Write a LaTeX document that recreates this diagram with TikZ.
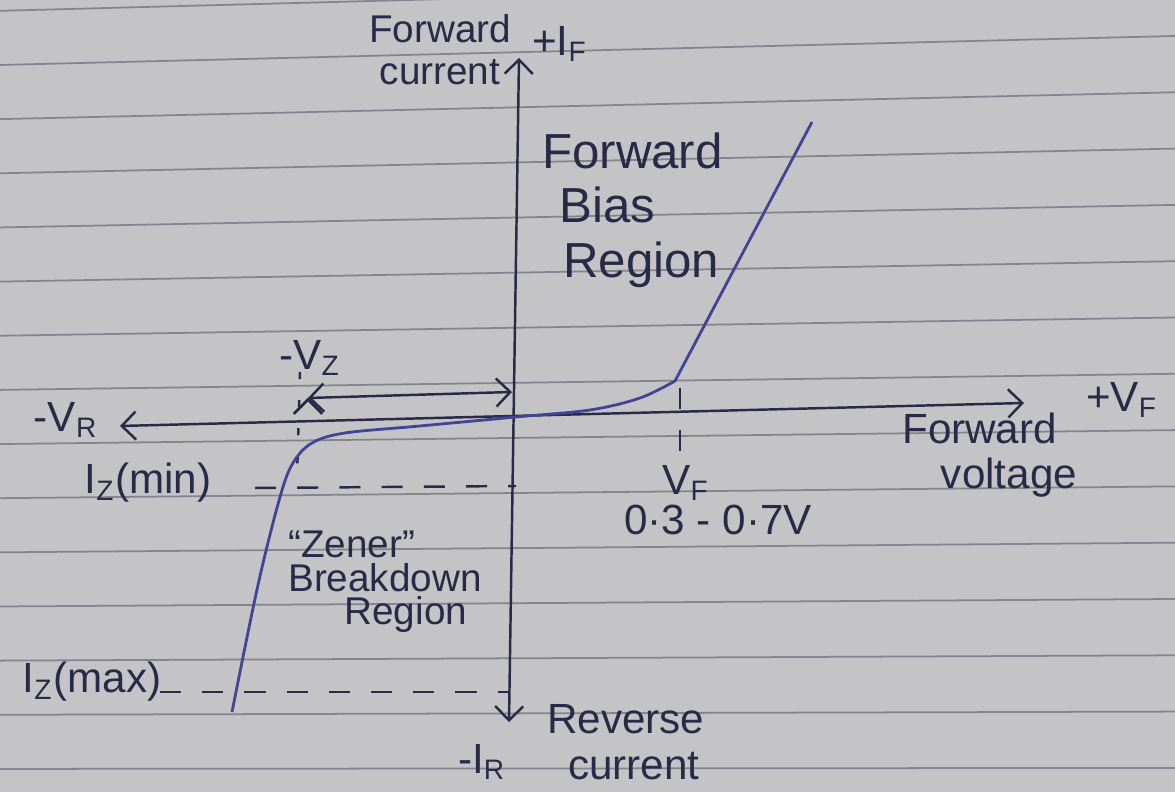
\documentclass[tikz,border=0pt]{standalone}
\usepackage{fontspec}
\setmainfont{Liberation Sans}
\usetikzlibrary{arrows.meta,positioning}
\definecolor{paper}{RGB}{196,196,198}
\definecolor{ruling}{RGB}{132,132,140}
\definecolor{ink}{RGB}{42,42,72}
\definecolor{pen}{RGB}{68,68,150}

\begin{document}
\begin{tikzpicture}[x=0.01cm, y=-0.01cm, >={Straight Barb[length=4pt,width=8pt]},
note/.style = {text=ink, font=\fontsize{12}{13}\selectfont, inner sep=1pt, align=center},
axis/.style = {draw=ink, line width=0.7pt},
curve/.style = {draw=pen, line width=0.8pt},
guide/.style = {draw=ink, line width=0.7pt, dash pattern=on 6pt off 6pt}]
    % the ruled sheet
    \useasboundingbox (0,0) rectangle (1175,792);
    \begin{scope}
        \clip (0,0) rectangle (1175,792);
        \fill[paper] (0,0) rectangle (1175,792);
        \foreach \i in {-1,...,13}
            \draw[ruling, line width=0.5pt] (0,{65+54.15*\i}) -- (1175,{36+56.3*\i});
    \end{scope}

    % axes
    \coordinate (IFtip) at (519,58);
    \coordinate (IRtip) at (509,722);
    \coordinate (VRtip) at (120,426);
    \coordinate (VFtip) at (1024,403);
    \coordinate (VZleft) at (308,398);
    \coordinate (VZright) at (512,392);
    \path[axis,<->] (IRtip) edge (IFtip)
                    (VRtip) edge (VFtip)
                    (VZleft) edge (VZright);

    % guides
    \coordinate (VZtop) at (300,372);
    \coordinate (VZbot) at (297,478);
    \coordinate (IZminA) at (255,488);
    \coordinate (IZminB) at (516,486);
    \coordinate (IZmaxA) at (160,692);
    \coordinate (IZmaxB) at (508,692);
    \coordinate (VFtop) at (680,388);
    \coordinate (VFbot) at (680,470);
    \path[guide] (IZminA) edge (IZminB)
                 (IZmaxA) edge (IZmaxB)
                 (VFtop) edge (VFbot);
    \draw[ink, line width=0.7pt, dash pattern=on 2pt off 6pt] (VZtop) -- (VZbot);

    % characteristic
    \draw[curve] plot[smooth, tension=0.55] coordinates {(232,712) (258,585) (280,497)
        (293,463) (312,443) (345,433) (420,426) (516,417) (590,410) (640,398) (675,381)}
        -- (812,122);

    % texts
    \node[note, font=\fontsize{11}{12}\selectfont] (fwdcur) at (440,50) {Forward\\current};
    \node[note, anchor=west] (IF) at (528,44) {+I\textsubscript{F}};
    \node[note, align=left, anchor=west, font=\fontsize{14}{15.5}\selectfont] (fbr) at (538,210)
        {Forward\\\hspace{5pt}Bias\\\hspace{6pt}Region};
    \node[note] (VZ) at (310,358) {-V\textsubscript{Z}};
    \node[note] (VR) at (66,420) {-V\textsubscript{R}};
    \node[note] (VF) at (1122,400) {+V\textsubscript{F}};
    \node[note, align=left, anchor=west] (fwdvolt) at (898,455) {Forward\\\hspace{11pt}voltage};
    \node[note] (IZmin) at (148,483) {I\textsubscript{Z}(min)};
    \node[note] (VFlbl) at (686,483) {V\textsubscript{F}};
    \node[note] (range) at (718,520) {0·3 - 0·7V};
    \node[note, align=left, anchor=west, font=\fontsize{11}{9.5}\selectfont] (zener) at (284,582)
        {“Zener”\\Breakdown\\\hspace{16pt}Region};
    \node[note] (IZmax) at (92,682) {I\textsubscript{Z}(max)};
    \node[note, align=left, anchor=west] (revcur) at (543,742) {Reverse\\\hspace{6pt}current};
    \node[note] (IR) at (482,762) {-I\textsubscript{R}};
\end{tikzpicture}
\end{document}
